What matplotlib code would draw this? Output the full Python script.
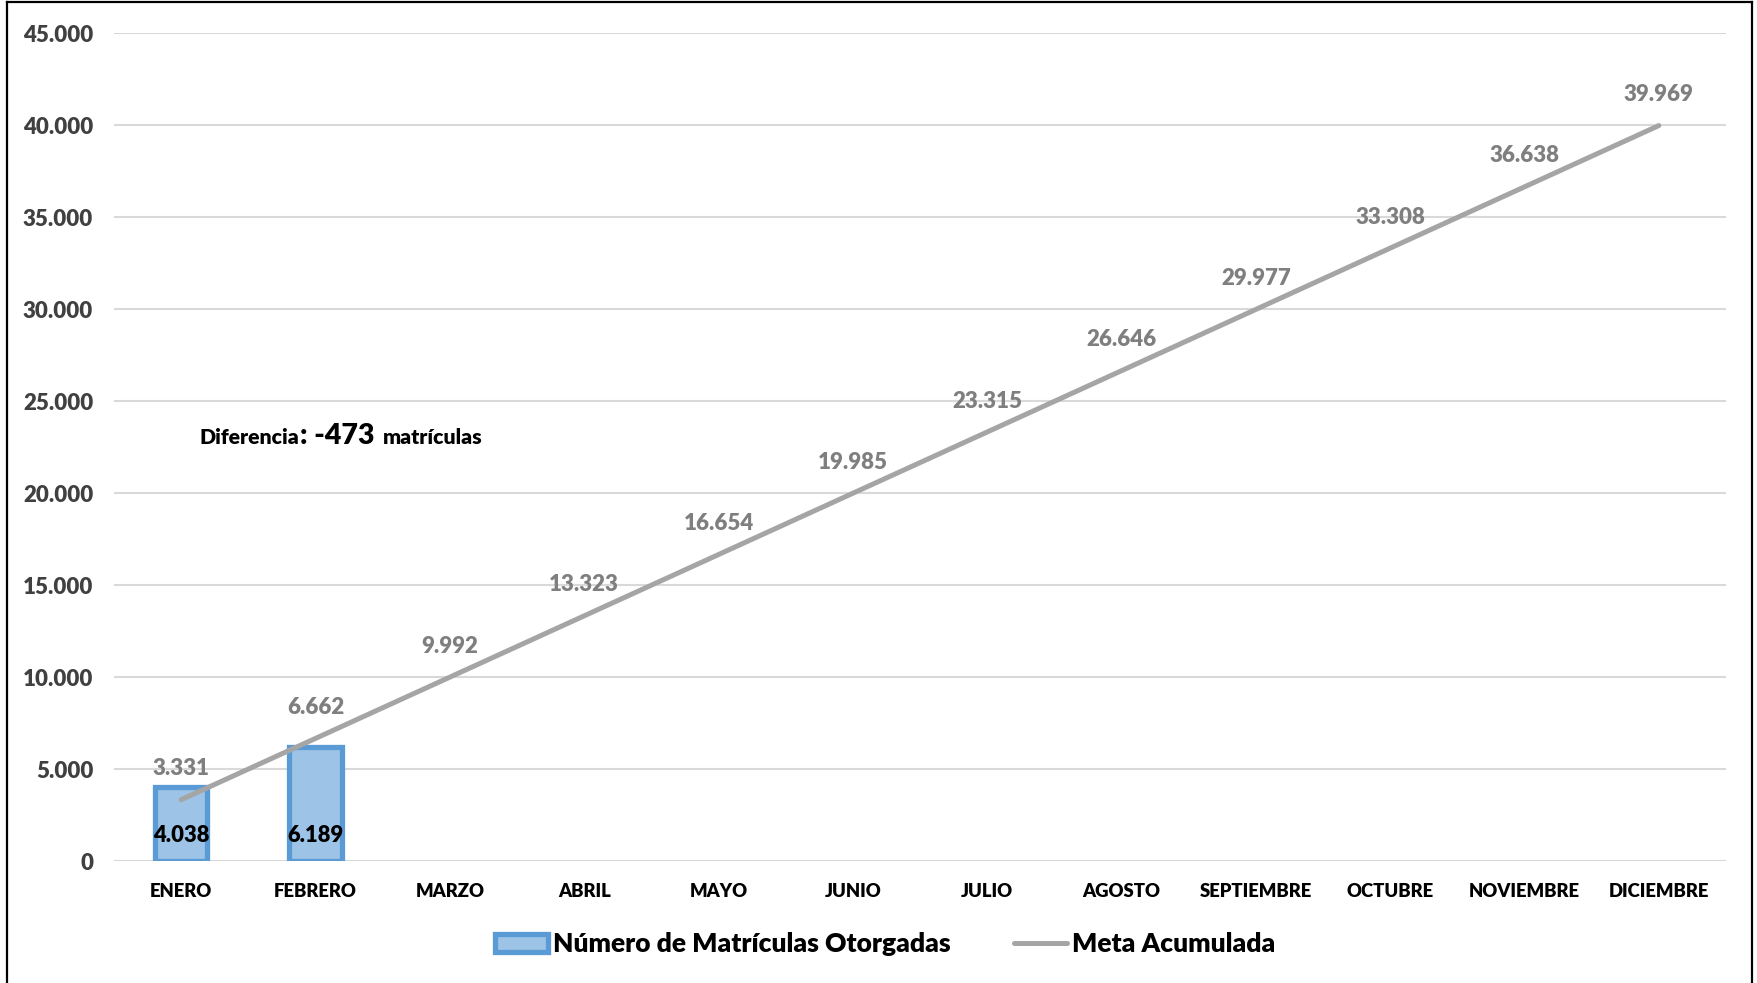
import matplotlib.pyplot as plt
from matplotlib.lines import Line2D
from matplotlib.transforms import offset_copy

plt.rcParams['font.family'] = ['Lato', 'DejaVu Sans']
PESO = 800

meses = ['ENERO', 'FEBRERO', 'MARZO', 'ABRIL', 'MAYO', 'JUNIO', 'JULIO',
         'AGOSTO', 'SEPTIEMBRE', 'OCTUBRE', 'NOVIEMBRE', 'DICIEMBRE']
matriculas = [4038, 6189]
meta = [3331, 6662, 9992, 13323, 16654, 19985, 23315, 26646, 29977, 33308, 36638, 39969]
yticks = list(range(0, 45001, 5000))


def miles(v):
    return f'{v:,}'.replace(',', '.')


W, H = 1758, 983
fig = plt.figure(figsize=(W / 100, H / 100), dpi=100)
ax = fig.add_axes([114 / W, 1 - 861 / H, (1726 - 114) / W, (861 - 33) / H])

x = list(range(len(meses)))
barras = ax.bar(x[:len(matriculas)], matriculas, width=0.39, color='#9DC3E6',
                edgecolor='#5B9BD5', linewidth=3.8, zorder=2)
linea, = ax.plot(x, meta, color='#A5A5A5', linewidth=3.6, solid_capstyle='round',
                 zorder=3)

for i, v in enumerate(meta):
    ax.annotate(miles(v), (i, v), xytext=(0, 31), textcoords='offset pixels',
                ha='center', va='center', fontsize=16, fontweight=PESO,
                color='#7F7F7F', zorder=4)
for i, v in enumerate(matriculas):
    ax.annotate(miles(v), (i, 0), xytext=(0, 25), textcoords='offset pixels',
                ha='center', va='center', fontsize=15.8, fontweight=PESO,
                color='black', zorder=4)

ax.set_xlim(-0.5, len(meses) - 0.5)
ax.set_ylim(0, 45000)
ax.set_xticks(x)
ax.set_xticklabels(meses, fontsize=13.3, fontweight=PESO, color='black')
ax.set_yticks(yticks)
ax.set_yticklabels([miles(v) for v in yticks], fontsize=16,
                   fontweight=PESO, color='#404040')
ax.tick_params(length=0)
ax.tick_params(axis='x', pad=16)
ax.tick_params(axis='y', pad=15)
for s in ax.spines.values():
    s.set_visible(False)
ax.grid(axis='y', color='#D9D9D9', linewidth=1.5, zorder=0)
ax.set_axisbelow(True)

# texto de diferencia, en tres partes encadenadas
r = fig.canvas.get_renderer()
t = fig.text(200 / W, 1 - 444 / H, 'Diferencia', fontsize=15.3, fontweight=PESO,
             va='baseline', ha='left')
for parte, tam, sep in [(': -473', 20.5, 0), ('matrículas', 15.3, 9)]:
    ext = t.get_window_extent(r)
    t = fig.text(0, 0, parte, fontsize=tam, fontweight=PESO, va='baseline', ha='left',
                 transform=offset_copy(t.get_transform(), fig=fig, x=ext.width + sep,
                                       units='dots'))
    t.set_position(fig.texts[-2].get_position())

leg = fig.legend([barras, linea], ['Número de Matrículas Otorgadas', 'Meta Acumulada'],
                 loc='center', bbox_to_anchor=(885 / W, 1 - 944 / H), ncol=2,
                 frameon=False, fontsize=19, handlelength=2.0,
                 handletextpad=0.2, columnspacing=2.4)
for tx in leg.get_texts():
    tx.set_fontweight(PESO)

# marco exterior
for xs, ys in [([7, 7], [983, 2]), ([7, 1752], [2, 2]), ([1752, 1752], [2, 983])]:
    fig.add_artist(Line2D([v / W for v in xs], [1 - v / H for v in ys], color='black',
                          linewidth=1.6, transform=fig.transFigure))

fig.savefig('out.png', dpi=100, facecolor='white')
